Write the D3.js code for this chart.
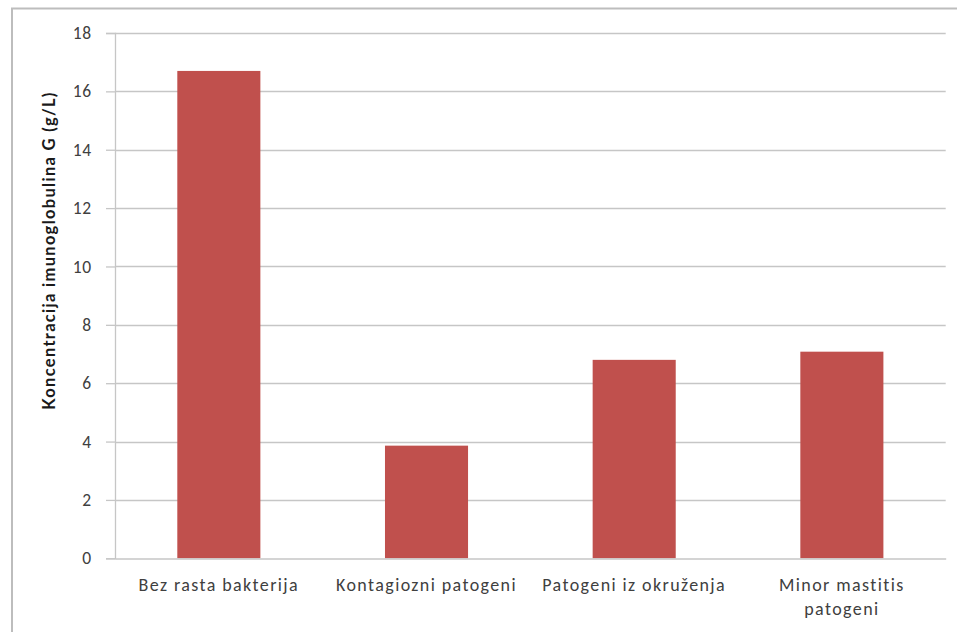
<!DOCTYPE html>
<html>
<head>
<meta charset="utf-8">
<script src="https://cdn.jsdelivr.net/npm/d3@7/dist/d3.min.js"></script>
<style>
  html, body { margin: 0; padding: 0; background: #fff; }
  svg text { font-family: Carlito, Lato, "Open Sans", sans-serif; }
</style>
</head>
<body>
<script>
// IgG concentration by bacteriological finding
const categories = ["Bez rasta bakterija", "Kontagiozni patogeni", "Patogeni iz okruženja", "Minor mastitis patogeni"];
const values = [16.7, 3.86, 6.8, 7.08];
const yTicks = [0, 2, 4, 6, 8, 10, 12, 14, 16, 18];
const yTitle = "Koncentracija imunoglobulina G (g/L)";

const W = 957, H = 632;
const m = { left: 115, top: 33, right: 957 - 945.7, bottom: 632 - 558.3 };
const FONT = "Lato, sans-serif";

const svg = d3.select("body").append("svg").attr("width", W).attr("height", H);

// outer chart frame
svg.append("rect")
  .attr("x", 12).attr("y", 8.5)
  .attr("width", 960).attr("height", 640)
  .attr("fill", "none").attr("stroke", "#bdbdbd").attr("stroke-width", 2);

const x = d3.scaleBand().domain(categories).range([m.left, W - m.right]).paddingInner(0.6).paddingOuter(0.3);
const y = d3.scaleLinear().domain([0, 18]).range([H - m.bottom, m.top]);

// horizontal gridlines
svg.append("g").selectAll("line").data(yTicks.filter(d => d > 0)).join("line")
  .attr("x1", m.left).attr("x2", W - m.right)
  .attr("y1", d => Math.round(y(d)) + 0.5).attr("y2", d => Math.round(y(d)) + 0.5)
  .attr("stroke", "#c6c6c6").attr("stroke-width", 1.3);

// y axis
const yAxis = svg.append("g")
  .attr("transform", `translate(${m.left},0)`)
  .call(d3.axisLeft(y).tickValues(yTicks).tickSize(9).tickPadding(14).tickFormat(d3.format("d")));
yAxis.attr("font-family", FONT).attr("font-size", null);
yAxis.select(".domain").attr("stroke", "#c6c6c6").attr("stroke-width", 1.3);
yAxis.selectAll(".tick line").attr("stroke", "#c6c6c6").attr("stroke-width", 1.3);
yAxis.selectAll(".tick text").attr("fill", "#404040")
  .style("font-size", "17.5px").style("letter-spacing", "0.8px");

// bars
svg.append("g").selectAll("rect").data(values).join("rect")
  .attr("x", (d, i) => x(categories[i]))
  .attr("width", x.bandwidth())
  .attr("y", d => y(d))
  .attr("height", d => y(0) - y(d))
  .attr("fill", "#c0504d");

// x axis
const xAxis = svg.append("g")
  .attr("transform", `translate(0,${Math.round(y(0)) + 0.5})`)
  .call(d3.axisBottom(x).tickSize(0).tickPadding(20));
xAxis.attr("font-family", FONT).attr("font-size", null);
xAxis.select(".domain").attr("stroke", "#c6c6c6").attr("stroke-width", 1.3);
xAxis.selectAll(".tick text")
  .attr("fill", "#404040").style("font-size", "18px").style("letter-spacing", "1.4px")
  .each(function(d) {
    const t = d3.select(this);
    if (d === "Minor mastitis patogeni") {
      t.text(null);
      t.append("tspan").attr("x", 0).attr("dy", "0.71em").text("Minor mastitis");
      t.append("tspan").attr("x", 0).attr("dy", "1.3em").text("patogeni");
      t.attr("dy", null);
    }
  });

// y axis title
svg.append("text")
  .attr("transform", `translate(55,250.5) rotate(-90)`)
  .attr("text-anchor", "middle")
  .attr("fill", "#1a1a1a")
  .style("font-family", FONT)
  .style("font-size", "16.5px").style("font-weight", "bold").style("letter-spacing", "1.3px")
  .text(yTitle);
</script>
</body>
</html>
